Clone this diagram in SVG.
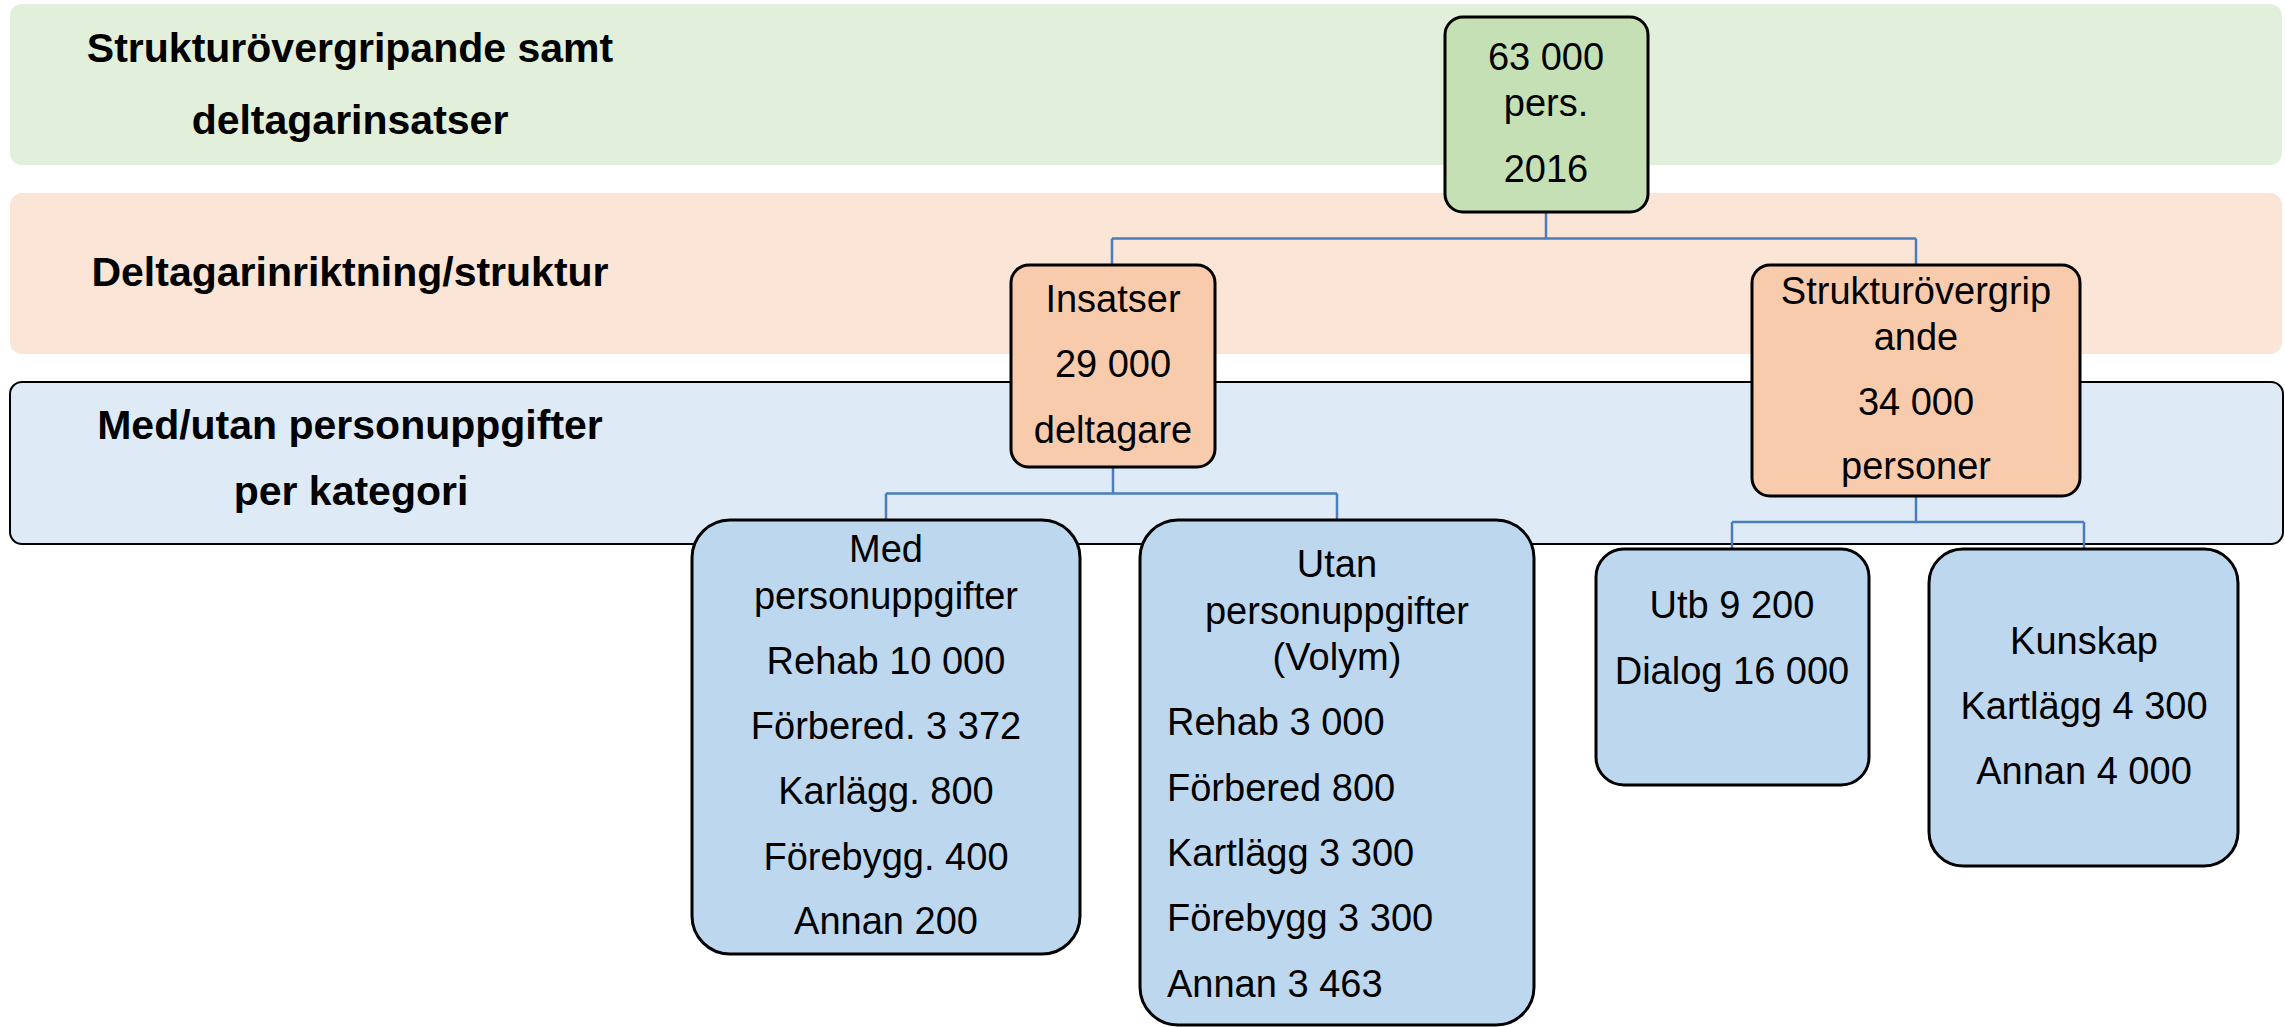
<svg xmlns="http://www.w3.org/2000/svg" width="2285" height="1027" viewBox="0 0 2285 1027">
<style>
.band-label{font-family:"Liberation Sans",Arial,sans-serif;font-weight:bold;font-size:41px;fill:#000;text-anchor:middle}
.t{font-family:"Liberation Sans",Arial,sans-serif;font-size:38px;fill:#000;text-anchor:middle}
.tl{font-family:"Liberation Sans",Arial,sans-serif;font-size:38px;fill:#000;text-anchor:start}
.node{stroke:#000;stroke-width:3}
.conn{fill:none;stroke:#4A7EBB;stroke-width:2.5}
</style>
<rect width="2285" height="1027" fill="#fff"/>
<g id="bands">
  <rect x="10" y="4" width="2272" height="161" rx="12" fill="#E2EFDA"/>
  <rect x="10" y="193" width="2272" height="161" rx="12" fill="#FBE5D6"/>
  <rect x="10" y="382" width="2273" height="162" rx="12" fill="#DEEBF7" stroke="#000" stroke-width="2"/>
  <text class="band-label" x="350" y="62">Strukturövergripande samt</text>
  <text class="band-label" x="350" y="134">deltagarinsatser</text>
  <text class="band-label" x="350" y="286">Deltagarinriktning/struktur</text>
  <text class="band-label" x="350" y="439">Med/utan personuppgifter</text>
  <text class="band-label" x="351" y="505">per kategori</text>
</g>
<g id="connectors">
  <path class="conn" d="M1546 212 V238.5 M1112 238.5 H1916 M1112 238.5 V265 M1916 238.5 V265"/>
  <path class="conn" d="M1113 467 V493.5 M886 493.5 H1337 M886 493.5 V520 M1337 493.5 V520"/>
  <path class="conn" d="M1916 496 V522 M1732 522 H2084 M1732 522 V549 M2084 522 V549"/>
</g>
<g id="root">
  <rect class="node" x="1445" y="17" width="203" height="195" rx="18" fill="#C5E0B4"/>
  <text class="t" x="1546" y="70">63 000</text>
  <text class="t" x="1546" y="116">pers.</text>
  <text class="t" x="1546" y="182">2016</text>
</g>
<g id="insatser">
  <rect class="node" x="1011" y="265" width="204" height="202" rx="18" fill="#F8CBAD"/>
  <text class="t" x="1113" y="312">Insatser</text>
  <text class="t" x="1113" y="377">29 000</text>
  <text class="t" x="1113" y="443">deltagare</text>
</g>
<g id="struktur">
  <rect class="node" x="1752" y="265" width="328" height="231" rx="18" fill="#F8CBAD"/>
  <text class="t" x="1916" y="304">Strukturövergrip</text>
  <text class="t" x="1916" y="350">ande</text>
  <text class="t" x="1916" y="415">34 000</text>
  <text class="t" x="1916" y="479">personer</text>
</g>
<g id="med">
  <rect class="node" x="692" y="520" width="388" height="434" rx="38" fill="#BDD7EE"/>
  <text class="t" x="886" y="562">Med</text>
  <text class="t" x="886" y="609">personuppgifter</text>
  <text class="t" x="886" y="674">Rehab 10 000</text>
  <text class="t" x="886" y="739">Förbered. 3 372</text>
  <text class="t" x="886" y="804">Karlägg. 800</text>
  <text class="t" x="886" y="870">Förebygg. 400</text>
  <text class="t" x="886" y="934">Annan 200</text>
</g>
<g id="utan">
  <rect class="node" x="1140" y="520" width="394" height="505" rx="38" fill="#BDD7EE"/>
  <text class="t" x="1337" y="577">Utan</text>
  <text class="t" x="1337" y="624">personuppgifter</text>
  <text class="t" x="1337" y="670">(Volym)</text>
  <text class="tl" x="1167" y="735">Rehab 3 000</text>
  <text class="tl" x="1167" y="801">Förbered 800</text>
  <text class="tl" x="1167" y="866">Kartlägg 3 300</text>
  <text class="tl" x="1167" y="931">Förebygg 3 300</text>
  <text class="tl" x="1167" y="997">Annan 3 463</text>
</g>
<g id="utb">
  <rect class="node" x="1596" y="549" width="273" height="236" rx="28" fill="#BDD7EE"/>
  <text class="t" x="1732" y="618">Utb 9 200</text>
  <text class="t" x="1732" y="684">Dialog 16 000</text>
</g>
<g id="kunskap">
  <rect class="node" x="1929" y="549" width="309" height="317" rx="34" fill="#BDD7EE"/>
  <text class="t" x="2084" y="654">Kunskap</text>
  <text class="t" x="2084" y="719">Kartlägg 4 300</text>
  <text class="t" x="2084" y="784">Annan 4 000</text>
</g>
</svg>
